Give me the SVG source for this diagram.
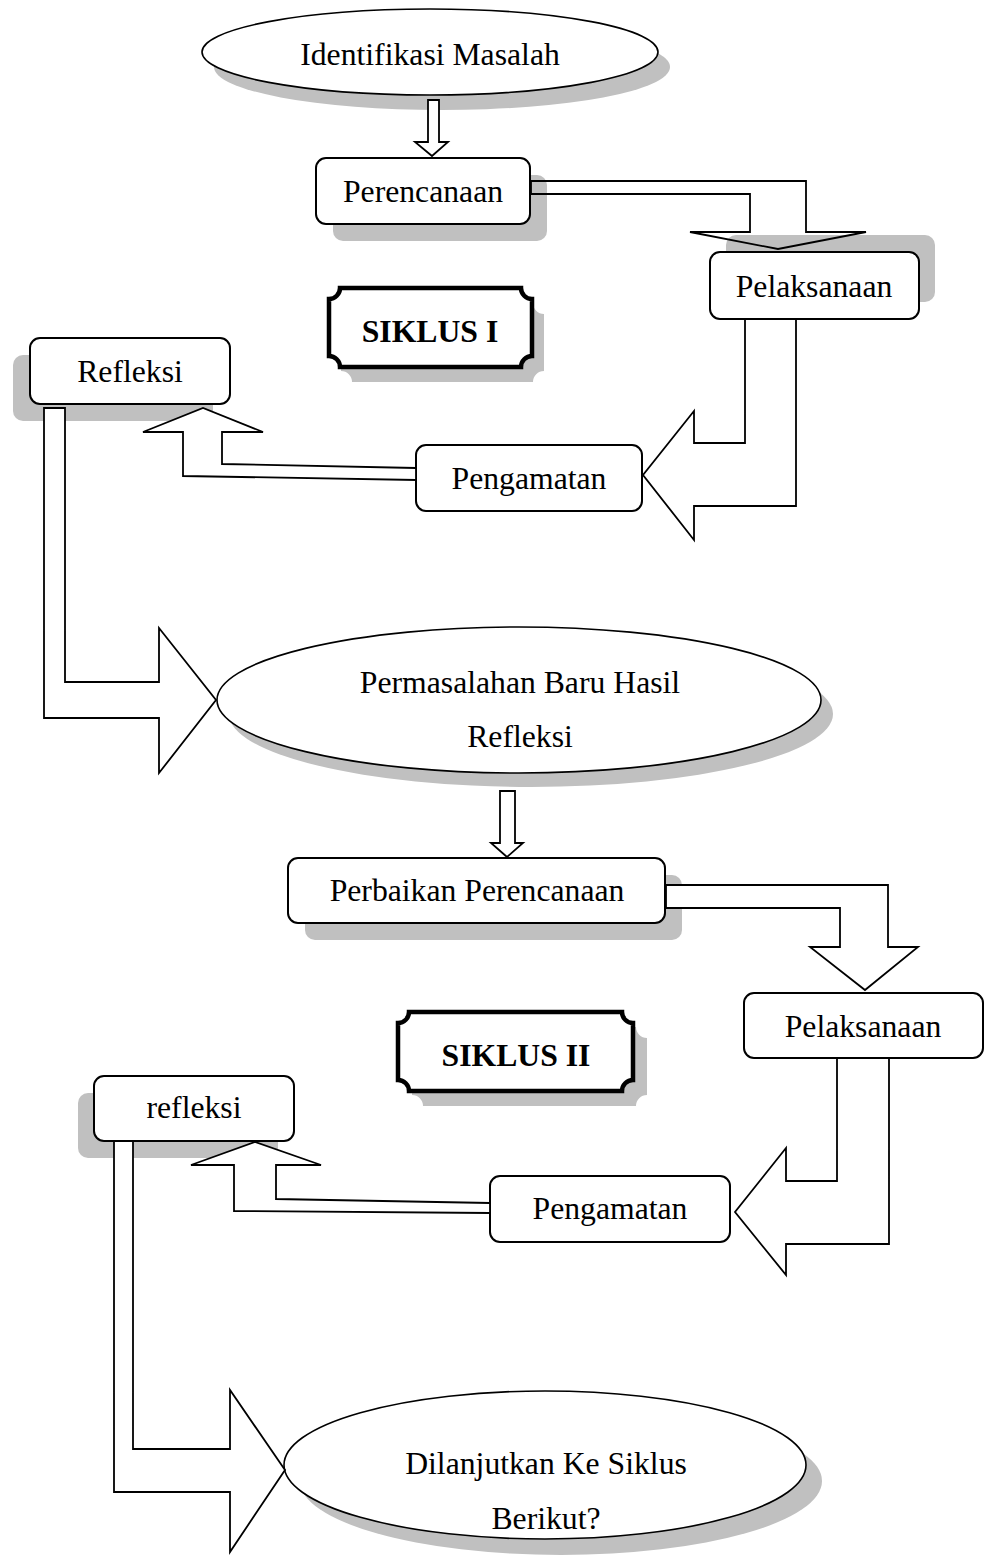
<svg xmlns="http://www.w3.org/2000/svg" width="992" height="1566" viewBox="0 0 992 1566">
<style>
text{font-family:"Liberation Serif","Times New Roman",serif;font-size:31.7px;fill:#000;text-anchor:middle}
.b{font-weight:bold}
.sh{fill:#c0c0c0;stroke:none}
.box{fill:#fff;stroke:#000;stroke-width:2}
.ell{fill:#fff;stroke:#000;stroke-width:1.6}
.plq{fill:#fff;stroke:#000;stroke-width:4.5}
.arr{fill:#fff;stroke:#000;stroke-width:1.8;stroke-linejoin:miter}
.arrn{fill:none;stroke:#000;stroke-width:1.8}
</style>
<rect width="992" height="1566" fill="#fff"/>

<g id="n-identifikasi">
<ellipse class="sh" cx="442" cy="67" rx="228" ry="43"/>
<ellipse class="ell" cx="430" cy="52" rx="228" ry="43"/>
<text x="430" y="65">Identifikasi Masalah</text>
</g>

<g id="n-perencanaan">
<rect class="sh" x="333" y="175" width="214" height="66" rx="10"/>
<rect class="box" x="316" y="158" width="214" height="66" rx="10"/>
<text x="423" y="202">Perencanaan</text>
</g>

<g id="n-pelaksanaan1">
<rect class="sh" x="726" y="235" width="209" height="67" rx="10"/>
<rect class="box" x="710" y="252" width="209" height="67" rx="10"/>
<text x="814" y="297">Pelaksanaan</text>
</g>

<g id="n-siklus1">
<path class="sh" transform="translate(12,15)" d="M340,288 H521 A11,11 0 0 0 532,299 V356 A11,11 0 0 0 521,367 H340 A11,11 0 0 0 329,356 V299 A11,11 0 0 0 340,288 Z"/>
<path class="plq" d="M340,288 H521 A11,11 0 0 0 532,299 V356 A11,11 0 0 0 521,367 H340 A11,11 0 0 0 329,356 V299 A11,11 0 0 0 340,288 Z"/>
<text class="b" x="430" y="342">SIKLUS I</text>
</g>

<g id="n-refleksi1">
<rect class="sh" x="13" y="355" width="200" height="66" rx="10"/>
<rect class="box" x="30" y="338" width="200" height="66" rx="10"/>
<text x="130" y="382">Refleksi</text>
</g>

<g id="n-pengamatan1">
<rect class="box" x="416" y="445" width="226" height="66" rx="10"/>
<text x="529" y="489">Pengamatan</text>
</g>

<g id="n-permasalahan">
<ellipse class="sh" cx="531" cy="714" rx="302" ry="73"/>
<ellipse class="ell" cx="519" cy="700" rx="302" ry="73"/>
<text x="520" y="693">Permasalahan Baru Hasil</text>
<text x="520" y="747">Refleksi</text>
</g>

<g id="n-perbaikan">
<rect class="sh" x="305" y="875" width="377" height="65" rx="10"/>
<rect class="box" x="288" y="858" width="377" height="65" rx="10"/>
<text x="477" y="901">Perbaikan Perencanaan</text>
</g>

<g id="n-pelaksanaan2">
<rect class="box" x="744" y="993" width="239" height="65" rx="10"/>
<text x="863" y="1037">Pelaksanaan</text>
</g>

<g id="n-siklus2">
<path class="sh" transform="translate(14,15)" d="M409,1012 H622 A11,11 0 0 0 633,1023 V1080 A11,11 0 0 0 622,1091 H409 A11,11 0 0 0 398,1080 V1023 A11,11 0 0 0 409,1012 Z"/>
<path class="plq" d="M409,1012 H622 A11,11 0 0 0 633,1023 V1080 A11,11 0 0 0 622,1091 H409 A11,11 0 0 0 398,1080 V1023 A11,11 0 0 0 409,1012 Z"/>
<text class="b" x="516" y="1066">SIKLUS II</text>
</g>

<g id="n-refleksi2">
<rect class="sh" x="78" y="1093" width="200" height="65" rx="10"/>
<rect class="box" x="94" y="1076" width="200" height="65" rx="10"/>
<text x="194" y="1118">refleksi</text>
</g>

<g id="n-pengamatan2">
<rect class="box" x="490" y="1176" width="240" height="66" rx="10"/>
<text x="610" y="1219">Pengamatan</text>
</g>

<g id="n-dilanjutkan">
<ellipse class="sh" cx="561" cy="1481" rx="261" ry="74"/>
<ellipse class="ell" cx="545" cy="1465" rx="261" ry="74"/>
<text x="546" y="1474">Dilanjutkan Ke Siklus</text>
<text x="546" y="1529">Berikut?</text>
</g>

<g id="connectors">
<polygon class="arr" points="428,100 439,100 439,142 448,142 432,156 415,142 428,142"/>
<polygon class="arrn" points="531,181 806,181 806,232 866,232 778,249 690,232 750,232 750,194 531,194"/>
<polygon class="arr" points="745,319 796,319 796,506 694,506 694,540 643,475 694,411 694,443 745,443"/>
<polygon class="arr" points="416,468 222,464 222,432 263,432 203,408 143,432 183,432 183,476 416,480"/>
<polygon class="arr" points="44,408 65,408 65,682 159,682 159,628 216,700 159,773 159,718 44,718"/>
<polygon class="arr" points="500,791 515,791 515,843 523,843 507,857 491,843 500,843"/>
<polygon class="arr" points="666,885 888,885 888,947 918,947 865,990 810,947 840,947 840,908 666,908"/>
<polygon class="arr" points="837,1058 889,1058 889,1244 786,1244 786,1275 735,1212 786,1148 786,1181 837,1181"/>
<polygon class="arr" points="490,1203 276,1199 276,1165 321,1165 255,1142 191,1165 234,1165 234,1211 490,1213"/>
<polygon class="arr" points="114,1141 133,1141 133,1449 230,1449 230,1390 285,1470 230,1552 230,1492 114,1492"/>
</g>
</svg>
